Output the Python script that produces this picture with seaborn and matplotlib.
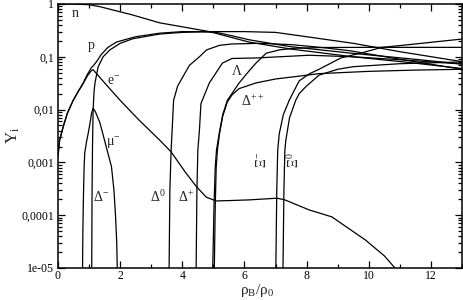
import numpy as np
import pandas as pd
import matplotlib
matplotlib.use("Agg")
import matplotlib.pyplot as plt
import seaborn as sns
from matplotlib.ticker import FixedLocator, FixedFormatter, MultipleLocator, LogLocator, NullFormatter

# ---- data ----
n_x = [0.0, 0.5, 1.0, 1.35, 2.4, 3.27, 4.0, 4.87, 6.15, 7.5, 9.5, 11.3, 13.0]
n_y = [0.998, 0.995, 0.97, 0.89, 0.62, 0.44, 0.37, 0.30, 0.19, 0.14, 0.10, 0.078, 0.06]

p_x = [0.0, 0.05, 0.17, 0.3, 0.49, 0.65, 0.81, 0.95, 1.08, 1.13, 1.24, 1.39, 1.6, 1.88,
       2.14, 2.5, 3.27, 4.0, 4.6, 5.1, 5.6, 6.15, 7.5, 9.5, 11.3, 13.0]
p_y = [0.0013, 0.0026, 0.0048, 0.0085, 0.015, 0.022, 0.032, 0.047, 0.063, 0.067, 0.081, 0.11,
       0.15, 0.19, 0.21, 0.24, 0.28, 0.30, 0.30, 0.29, 0.25, 0.21, 0.155, 0.116, 0.092, 0.073]

e_x = [0.0, 0.05, 0.17, 0.3, 0.49, 0.65, 0.81, 0.95, 1.08, 1.13, 1.5, 1.99, 2.6, 3.27, 3.64,
       4.1, 4.45, 4.77, 5.09, 5.6, 6.15, 7.05, 7.3, 8.08, 8.81, 9.89, 10.5, 10.83, 10.95]
e_y = [0.0013, 0.0026, 0.0048, 0.0085, 0.015, 0.022, 0.031, 0.044, 0.055, 0.057, 0.032, 0.0152,
       0.0064, 0.00265, 0.00158, 0.00065, 0.00035, 0.00022, 0.000186, 0.00019, 0.000195,
       0.00021, 0.000195, 0.000126, 0.000093, 0.000034, 0.000017, 0.0000102, 0.000006]

mu_x = [0.785, 0.79, 0.80, 0.82, 0.84, 0.86, 0.92, 0.97, 1.03, 1.08, 1.13, 1.2, 1.35, 1.56,
        1.72, 1.80, 1.85, 1.89, 1.91]
mu_y = [0.000003, 0.00001, 0.00005, 0.00025, 0.0008, 0.0015, 0.0025, 0.0035, 0.0055, 0.0085,
        0.0106, 0.0092, 0.0056, 0.0019, 0.00083, 0.0003, 0.0001, 0.00003, 0.000008]

dm_x = [1.075, 1.085, 1.095, 1.11, 1.13, 1.16, 1.19, 1.29, 1.45, 1.67, 2.0, 2.41, 3.27, 4.0,
        5.0, 6.0, 7.0, 8.0, 9.5, 11.0, 13.0]
dm_y = [0.000001, 0.00001, 0.0002, 0.002, 0.01, 0.022, 0.032, 0.064, 0.10, 0.135, 0.18, 0.22,
        0.27, 0.29, 0.30, 0.30, 0.29, 0.24, 0.18, 0.125, 0.081]

d0_x = [3.565, 3.575, 3.60, 3.64, 3.72, 3.85, 4.02, 4.23, 4.55, 4.78, 5.2, 5.6, 6.5, 7.5, 8.5,
        9.4, 11.0, 13.0]
d0_y = [0.000001, 0.00001, 0.0003, 0.0017, 0.015, 0.028, 0.042, 0.069, 0.10, 0.135, 0.165,
        0.175, 0.18, 0.17, 0.15, 0.13, 0.09, 0.058]

dp_x = [4.435, 4.445, 4.47, 4.50, 4.55, 4.6, 4.87, 5.29, 5.6, 6.38, 8.08, 9.5, 11.0, 13.0]
dp_y = [0.000001, 0.00001, 0.0003, 0.0017, 0.004, 0.013, 0.032, 0.076, 0.093, 0.095, 0.107,
        0.10, 0.088, 0.073]

lam_x = [4.97, 4.98, 5.02, 5.06, 5.1, 5.19, 5.3, 5.45, 5.83, 6.1, 6.37, 6.7, 7.12, 7.6, 8.5,
         10.0, 13.0]
lam_y = [0.000001, 0.00001, 0.00015, 0.0008, 0.0017, 0.0036, 0.008, 0.015, 0.032, 0.05, 0.076,
         0.117, 0.135, 0.145, 0.15, 0.151, 0.151]

dpp_x = [5.02, 5.03, 5.06, 5.09, 5.13, 5.2, 5.3, 5.45, 5.6, 5.83, 6.37, 7.0, 7.76, 8.4, 10.0,
         11.5, 13.0]
dpp_y = [0.000001, 0.00001, 0.00015, 0.0008, 0.0017, 0.0036, 0.0075, 0.014, 0.019, 0.025,
         0.032, 0.038, 0.043, 0.048, 0.053, 0.056, 0.058]

xim_x = [7.0, 7.01, 7.04, 7.07, 7.12, 7.25, 7.44, 7.76, 8.1, 8.4, 9.1, 9.8, 10.4, 11.5, 13.0]
xim_y = [0.000001, 0.00001, 0.0003, 0.0017, 0.0035, 0.008, 0.015, 0.035, 0.048, 0.058, 0.095,
         0.12, 0.15, 0.175, 0.217]

xi0_x = [7.23, 7.24, 7.27, 7.30, 7.33, 7.45, 7.65, 7.76, 7.97, 8.4, 9.0, 9.5, 11.0, 13.0]
xi0_y = [0.000001, 0.00001, 0.0003, 0.0017, 0.0026, 0.007, 0.015, 0.02, 0.027, 0.045, 0.058,
         0.065, 0.074, 0.08]

x_ticks = [0, 2, 4, 6, 8, 10, 12]
x_tick_labels = ["0", "2", "4", "6", "8", "10", "12"]
y_ticks = [1e-5, 1e-4, 1e-3, 1e-2, 1e-1, 1]
y_tick_labels = ["1e-05", "0,0001", "0,001", "0,01", "0,1", "1"]

labels = [
    ("n", 0.55, 0.66, 0),
    ("p", 1.08, 0.165, 0),
    ("e$^{-}$", 1.8, 0.034, 0),
    ("μ$^{-}$", 1.78, 0.0023, 0),
    ("Δ$^{-}$", 1.38, 0.00022, 0),
    ("Δ$^{0}$", 3.22, 0.00022, 0),
    ("Δ$^{+}$", 4.12, 0.00022, 0),
    ("Λ", 5.75, 0.052, 0),
    ("Δ$^{++}$", 6.25, 0.0145, 0),
    ("Ξ$^{-}$", 6.55, 0.0011, 90),
    ("Ξ$^{0}$", 7.6, 0.0011, 90),
]

# ---- plotting ----
sns.set_style("ticks")
plt.rcParams["font.family"] = ["Liberation Serif", "DejaVu Serif"]
plt.rcParams["mathtext.fontset"] = "custom"
plt.rcParams["mathtext.rm"] = "Liberation Serif"
plt.rcParams["mathtext.it"] = "Liberation Serif"
plt.rcParams["mathtext.default"] = "regular"

fig = plt.figure(figsize=(4.63, 3.0), dpi=100)
ax = fig.add_axes([58 / 463, 1 - 268 / 300, (462 - 58) / 463, (268 - 4) / 300])
ax.set_yscale("log")

series = [(n_x, n_y), (p_x, p_y), (e_x, e_y), (mu_x, mu_y), (dm_x, dm_y), (d0_x, d0_y),
          (dp_x, dp_y), (lam_x, lam_y), (dpp_x, dpp_y), (xim_x, xim_y), (xi0_x, xi0_y)]
for xs, ys in series:
    df = pd.DataFrame({"x": xs, "y": ys})
    sns.lineplot(data=df, x="x", y="y", ax=ax, color="black", lw=0.9,
                 sort=False, estimator=None)

ax.set_xlim(0, 13)
ax.set_ylim(1e-5, 1)

ax.xaxis.set_major_locator(FixedLocator(x_ticks))
ax.xaxis.set_major_formatter(FixedFormatter(x_tick_labels))
ax.xaxis.set_minor_locator(MultipleLocator(1))
ax.yaxis.set_major_locator(FixedLocator(y_ticks))
ax.yaxis.set_major_formatter(FixedFormatter(y_tick_labels))
ax.yaxis.set_minor_locator(LogLocator(base=10, subs=np.arange(2, 10)))
ax.yaxis.set_minor_formatter(NullFormatter())

ax.tick_params(which="both", direction="in", top=True, right=True, colors="black",
               labelsize=8.5, pad=3, width=0.9)
ax.tick_params(axis="x", which="major", pad=1.5)
ax.tick_params(which="major", length=5)
ax.tick_params(which="minor", length=2.8)
for s in ax.spines.values():
    s.set_linewidth(1.1)
    s.set_color("black")

ax.set_xlabel("")
ax.set_ylabel("")
fig.text(257 / 463, 1 / 300, "ρ$_{B}$/ρ$_{0}$", fontsize=11, ha="center", va="bottom")
fig.text(13 / 463, 1 - 135 / 300, "Y$_{i}$", fontsize=12, ha="center", va="center",
         rotation=90)

for txt, x, y, rot in labels:
    ax.text(x, y, txt, fontsize=10, ha="center", va="center", rotation=rot)

fig.savefig("out.png", dpi=100)
